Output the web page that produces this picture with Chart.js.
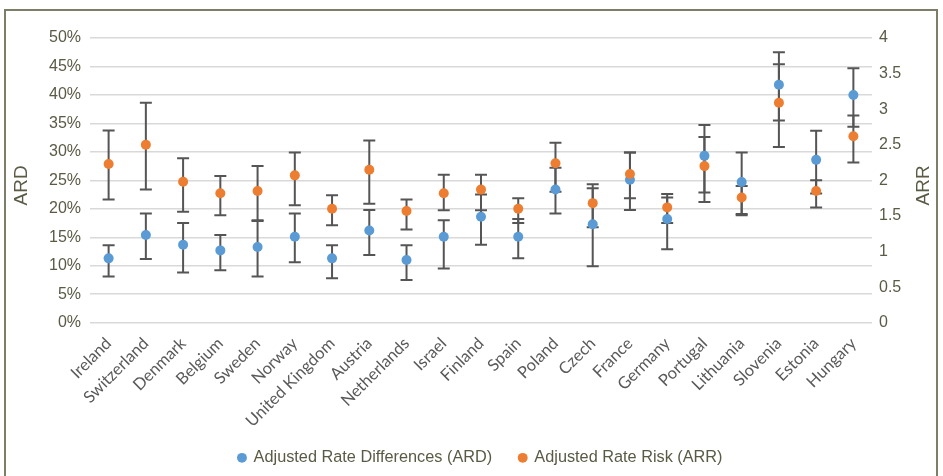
<!DOCTYPE html>
<html lang="en">
<head>
    <meta charset="UTF-8">
    <title>ARD / ARR by country</title>
    <script src="https://cdn.jsdelivr.net/npm/chart.js"></script>
    <style>
        body { margin: 0; background: #fff; }
        .wrap { position: relative; width: 943px; height: 476px; overflow: hidden; }
        .frame { position: absolute; left: 4px; top: 9px; width: 934px; height: 480px; border: 2px solid #7d7d68; box-sizing: border-box; pointer-events: none; }
        canvas { position: absolute; left: 0; top: 0; }
    </style>
</head>
<body>
    <div class="wrap">
        <canvas id="chart" width="943" height="476"></canvas>
        <div class="frame"></div>
    </div>

    <script>
        const countries = ['Ireland', 'Switzerland', 'Denmark', 'Belgium', 'Sweden', 'Norway', 'United Kingdom', 'Austria', 'Netherlands', 'Israel', 'Finland', 'Spain', 'Poland', 'Czech', 'France', 'Germany', 'Portugal', 'Lithuania', 'Slovenia', 'Estonia', 'Hungary'];

        // ARD in percent
        const ard     = [11.3, 15.4, 13.7, 12.7, 13.3, 15.1, 11.3, 16.2, 11.0, 15.1, 18.6, 15.1, 23.4, 17.3, 25.1, 18.2, 29.3, 24.7, 41.8, 28.6, 40.0];
        const ardLow  = [8.1, 11.2, 8.8, 9.2, 8.1, 10.6, 7.8, 11.9, 7.5, 9.5, 13.7, 11.3, 19.2, 9.9, 19.8, 12.9, 21.2, 19.1, 35.5, 22.7, 34.4];
        const ardHigh = [13.6, 19.2, 17.5, 15.4, 18.0, 19.2, 13.6, 19.8, 13.6, 18.0, 22.5, 18.2, 27.2, 24.3, 29.9, 22.6, 34.7, 29.9, 47.5, 33.7, 44.7];

        // ARR (right axis)
        const arr     = [2.23, 2.50, 1.98, 1.82, 1.85, 2.07, 1.60, 2.15, 1.57, 1.82, 1.87, 1.60, 2.24, 1.68, 2.09, 1.62, 2.20, 1.76, 3.09, 1.85, 2.62];
        const arrLow  = [1.73, 1.87, 1.56, 1.51, 1.43, 1.65, 1.37, 1.67, 1.31, 1.58, 1.58, 1.40, 1.84, 1.34, 1.75, 1.40, 1.83, 1.51, 2.47, 1.62, 2.25];
        const arrHigh = [2.70, 3.09, 2.31, 2.06, 2.20, 2.39, 1.79, 2.56, 1.73, 2.08, 2.08, 1.75, 2.53, 1.89, 2.39, 1.76, 2.61, 1.92, 3.63, 2.00, 2.91];

        const textCol = '#5a5a45';
        const sans = '"Liberation Sans", Arial, sans-serif';

        // error bars drawn under the points, through the chart's own scales
        const errorBars = {
            id: 'errorBars',
            beforeDatasetsDraw(chart) {
                const ctx = chart.ctx, x = chart.scales.x;
                const sets = [[chart.scales.y, ardLow, ardHigh], [chart.scales.y1, arrLow, arrHigh]];
                ctx.save();
                ctx.strokeStyle = '#555555';
                ctx.lineWidth = 2;
                sets.forEach(([sc, lo, hi]) => {
                    lo.forEach((v, i) => {
                        const px = x.getPixelForValue(i);
                        const y1 = sc.getPixelForValue(v), y2 = sc.getPixelForValue(hi[i]);
                        ctx.beginPath();
                        ctx.moveTo(px, y1); ctx.lineTo(px, y2);
                        ctx.moveTo(px - 6, y1); ctx.lineTo(px + 6, y1);
                        ctx.moveTo(px - 6, y2); ctx.lineTo(px + 6, y2);
                        ctx.stroke();
                    });
                });
                ctx.restore();
            }
        };

        // both axis titles read bottom-to-top
        const axisTitles = {
            id: 'axisTitles',
            afterLayout(chart) {
                // long rotated labels (United Kingdom) may run past the x box, don't clip them
                chart.scales.x.bottom = chart.height;
            },
            afterDraw(chart) {
                const ctx = chart.ctx, a = chart.chartArea;
                const midY = (a.top + a.bottom) / 2 + 5;
                ctx.save();
                ctx.font = '19px ' + sans;
                ctx.fillStyle = textCol;
                ctx.textAlign = 'center';
                ctx.textBaseline = 'middle';
                [['ARD', 22], ['ARR', 924]].forEach(([t, tx]) => {
                    ctx.save();
                    ctx.translate(tx, midY);
                    ctx.rotate(-Math.PI / 2);
                    ctx.fillText(t, 0, 0);
                    ctx.restore();
                });
                ctx.restore();
            }
        };

        new Chart(document.getElementById('chart'), {
            type: 'line',
            data: {
                labels: countries,
                datasets: [
                    { label: 'Adjusted Rate Differences (ARD)', data: ard, yAxisID: 'y', showLine: false, order: 2,
                      pointRadius: 5, pointHoverRadius: 5, pointBorderWidth: 0, backgroundColor: '#5b9bd5', borderColor: '#5b9bd5' },
                    { label: 'Adjusted Rate Risk (ARR)', data: arr, yAxisID: 'y1', showLine: false, order: 1,
                      pointRadius: 5, pointHoverRadius: 5, pointBorderWidth: 0, backgroundColor: '#ed7d31', borderColor: '#ed7d31' }
                ]
            },
            options: {
                responsive: false,
                animation: false,
                layout: { padding: { top: 38, left: 18, right: 0, bottom: 0 } },
                plugins: {
                    tooltip: { enabled: false },
                    legend: {
                        position: 'bottom',
                        labels: { usePointStyle: true, pointStyle: 'circle', boxWidth: 7, boxHeight: 7, padding: 27,
                                  sort: (a, b) => a.datasetIndex - b.datasetIndex,
                                  color: textCol, font: { family: sans, size: 16.3 } }
                    }
                },
                scales: {
                    x: {
                        offset: true,
                        grid: { display: false, drawTicks: false }, border: { display: false },
                        ticks: { minRotation: 45, maxRotation: 45, padding: 11, color: '#595959', autoSkip: false,
                                 font: { family: 'Lato, sans-serif', size: 16.5 } },
                        afterFit: s => { s.height = 100; }
                    },
                    y: {
                        position: 'left', min: 0, max: 50,
                        grid: { color: '#d9d9d9', lineWidth: 1.5, drawTicks: false }, border: { display: false },
                        ticks: { stepSize: 5, padding: 9, color: textCol, callback: v => v + '%',
                                 font: { family: sans, size: 16 } },
                        afterFit: s => { s.width = 72; }
                    },
                    y1: {
                        position: 'right', min: 0, max: 4,
                        grid: { display: false, drawTicks: false }, border: { display: false },
                        ticks: { stepSize: 0.5, padding: 7, color: textCol, callback: v => v + '',
                                 font: { family: sans, size: 16 } },
                        afterFit: s => { s.width = 71; }
                    }
                }
            },
            plugins: [errorBars, axisTitles]
        });
    </script>
</body>
</html>
